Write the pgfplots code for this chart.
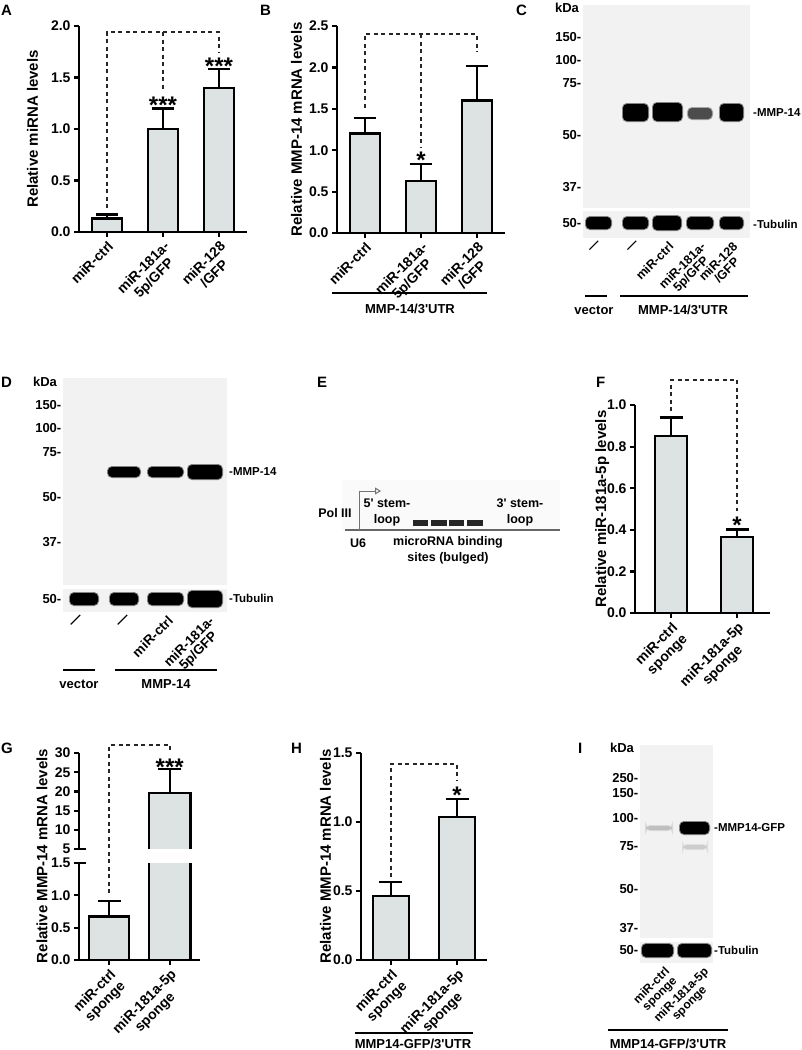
\documentclass[border=0pt]{standalone}
\usepackage{fontspec}
\setmainfont{Liberation Sans}[Ligatures=TeXOff]
\usepackage{pgfplots}
\pgfplotsset{compat=1.18}
\usetikzlibrary{arrows.meta}
\definecolor{barfill}{HTML}{DDE3E3}
\definecolor{blotbg}{HTML}{F2F2F2}
\newcommand{\fsz}[2]{\fontsize{#1}{#2}\selectfont\bfseries}
\newcommand{\band}[5]{%
  \addplot[fill=#5, draw=#5, draw opacity=0.45, line width=2pt, rounded corners=4pt] coordinates {(#1,#3) (#2,#3) (#2,#4) (#1,#4)} -- cycle;}
% error bar: x, value, top, cap left, cap right
\newcommand{\eb}[5]{%
  \addplot[line width=2.4pt, black] coordinates {(#1,#2) (#1,#3)};
  \addplot[line width=2.4pt, black] coordinates {(#4,#3) (#5,#3)};}
\tikzset{star/.style={font=\fsz{24}{24}, anchor=base, inner sep=0pt, yshift=-13pt}}
\pgfplotsset{
  /pgf/number format/assume math mode=true,
  gp/.style={
    scale only axis, clip=false, enlargelimits=false,
    axis x line*=bottom, axis y line*=left,
    axis line style={line width=2.4pt, black},
    tick style={line width=2.2pt, black},
    tick align=outside, major tick length=5pt,
    ticklabel style={font=\fsz{14}{15}},
    yticklabel style={/pgf/number format/.cd, fixed, fixed zerofill, precision=1},
    xticklabel style={rotate=45, anchor=north east, align=center, inner sep=2pt},
    ylabel style={font=\fsz{15}{17}},
    no markers,
  },
  barplot/.style={ybar, bar width=#1, fill=barfill, draw=black, line width=2.4pt},
  dash/.style={line width=1.6pt, dash pattern=on 4pt off 3.5pt, black!85},
  blot/.style={
    scale only axis, clip=false, enlargelimits=false, y dir=reverse,
    axis line style={draw=none}, major tick length=0pt, tick style={draw=none},
    axis background/.style={fill=blotbg},
    xtick=\empty,
    yticklabel style={font=\fsz{13}{14}, inner sep=1.5pt},
    xticklabel style={font=\fsz{13.5}{13}, rotate=45, anchor=north east, align=center, inner sep=2pt},
  },
}
\begin{document}
\begin{tikzpicture}
\path[use as bounding box] (0pt,0pt) rectangle (802pt,-1050pt);

% ---------- A
\begin{axis}[gp, at={(79pt,-232pt)}, anchor=south west, width=168pt, height=206pt,
  xmin=0.5, xmax=3.5, ymin=0, ymax=2,
  ytick={0,0.5,1,1.5,2}, xtick={1,2,3},
  xticklabels={miR-ctrl, {miR-181a-\\5p/GFP}, {miR-128\\/GFP}},
  ylabel={Relative miRNA levels}, ylabel style={yshift=6pt}]
\addplot[barplot=30pt] coordinates {(1,0.13) (2,1.0) (3,1.4)};
\eb{1}{0.13}{0.17}{0.795}{1.205}
\eb{2}{1.0}{1.2}{1.795}{2.205}
\eb{3}{1.4}{1.58}{2.795}{3.205}
\addplot[dash] coordinates {(1,0.23) (1,1.94) (3,1.94) (3,1.74)};
\addplot[dash] coordinates {(2,1.94) (2,1.36)};
\node[star] at (axis cs:2,1.28) {***};
\node[star] at (axis cs:3,1.66) {***};
\end{axis}

% ---------- B
\begin{axis}[gp, at={(337pt,-233pt)}, anchor=south west, width=168pt, height=207pt,
  xmin=0.5, xmax=3.5, ymin=0, ymax=2.5,
  ytick={0,0.5,1,1.5,2,2.5}, xtick={1,2,3},
  xticklabels={miR-ctrl, {miR-181a-\\5p/GFP}, {miR-128\\/GFP}},
  ylabel={Relative MMP-14 mRNA levels}]
\addplot[barplot=30pt] coordinates {(1,1.2) (2,0.63) (3,1.6)};
\eb{1}{1.2}{1.39}{0.795}{1.205}
\eb{2}{0.63}{0.83}{1.795}{2.205}
\eb{3}{1.6}{2.02}{2.795}{3.205}
\addplot[dash] coordinates {(1,1.51) (1,2.4) (3,2.4) (3,2.19)};
\addplot[dash] coordinates {(2,2.4) (2,1.04)};
\node[star] at (axis cs:2,0.94) {*};
\end{axis}

% ---------- C
\begin{axis}[blot, at={(583pt,-5pt)}, anchor=north west, width=167pt, height=203pt,
  xmin=583, xmax=750, ymin=5, ymax=208,
  ytick={37,60,83,135,187}, yticklabels={150-,100-,75-,50-,37-}]
\band{623}{648}{104}{121}{black}
\band{653}{682}{103}{121}{black}
\band{688}{712}{108}{119}{black!70}
\band{720}{743}{104}{121}{black}
\end{axis}
\begin{axis}[blot, at={(583pt,-211pt)}, anchor=north west, width=167pt, height=27pt,
  xmin=583, xmax=750, ymin=211, ymax=238,
  ytick={223}, yticklabels={50-},
  xtick={598,636,668,700,732},
  xticklabel style={font=\fsz{12.5}{12}},
  xticklabels={\textemdash, \textemdash, miR-ctrl, {miR-181a-\\5p/GFP}, {miR-128\\/GFP}}]
\band{586}{611}{217}{229}{black}
\band{623}{648}{217}{229}{black}
\band{653}{681}{216}{230}{black}
\band{687}{713}{217}{229}{black}
\band{720}{743}{217}{229}{black}
\end{axis}

% ---------- D
\begin{axis}[blot, at={(63pt,-378pt)}, anchor=north west, width=164pt, height=207pt,
  xmin=63, xmax=227, ymin=378, ymax=585,
  ytick={405,428,452,497,542}, yticklabels={150-,100-,75-,50-,37-}]
\band{108}{140}{467}{477}{black}
\band{148}{183}{467}{477}{black}
\band{188}{222}{465}{479}{black}
\end{axis}
\begin{axis}[blot, at={(63pt,-589pt)}, anchor=north west, width=164pt, height=23pt,
  xmin=63, xmax=227, ymin=589, ymax=612,
  ytick={599}, yticklabels={50-},
  xtick={80,127,167,208},
  xticklabels={\textemdash, \textemdash, miR-ctrl, {miR-181a-\\5p/GFP}}]
\band{70}{98}{593}{605}{black}
\band{110}{138}{593}{605}{black}
\band{148}{183}{593}{605}{black}
\band{188}{222}{591}{607}{black}
\end{axis}

% ---------- F
\begin{axis}[gp, at={(635pt,-613pt)}, anchor=south west, width=135pt, height=208pt,
  xmin=0.45, xmax=2.5, ymin=0, ymax=1,
  ytick={0,0.2,0.4,0.6,0.8,1}, xtick={1,2},
  xticklabels={{miR-ctrl\\sponge}, {miR-181a-5p\\sponge}},
  ylabel={Relative miR-181a-5p levels}, ylabel style={yshift=-9pt}]
\addplot[barplot=32pt] coordinates {(1,0.85) (2,0.365)};
\eb{1}{0.85}{0.94}{0.825}{1.175}
\eb{2}{0.365}{0.402}{1.825}{2.175}
\addplot[dash] coordinates {(1,0.97) (1,1.12) (2,1.12) (2,0.49)};
\node[star] at (axis cs:2,0.447) {*};
\end{axis}

% ---------- G (broken axis)
\begin{axis}[gp, at={(79pt,-960pt)}, anchor=south west, width=121pt, height=97pt,
  xmin=0.5, xmax=2.5, ymin=0, ymax=1.5,
  ytick={0,0.5,1,1.5}, xtick={1,2},
  xticklabels={{miR-ctrl\\sponge}, {miR-181a-5p\\sponge}}]
\addplot[barplot=40pt] coordinates {(1,0.67)};
\eb{1}{0.67}{0.91}{0.81}{1.19}
\addplot[fill=barfill, draw=black, line width=2.4pt] coordinates {(1.66,1.5) (1.66,0) (2.34,0) (2.34,1.5)};
\draw[line width=2.4pt] (axis cs:0.5,1.5) -- ++(7pt,0pt);
\end{axis}
\begin{axis}[gp, at={(79pt,-849pt)}, anchor=south west, width=121pt, height=96pt,
  axis x line=none, xtick=\empty,
  xmin=0.5, xmax=2.5, ymin=5, ymax=30,
  ytick={5,10,15,20,25,30},
  yticklabel style={/pgf/number format/.cd, fixed, precision=0}]
\addplot[fill=barfill, draw=black, line width=2.4pt] coordinates {(1.66,5) (1.66,19.6) (2.34,19.6) (2.34,5)};
\eb{2}{19.6}{25.8}{1.81}{2.19}
\addplot[dash] coordinates {(1,-6.5) (1,32.1) (2,32.1) (2,30.3)};
\node[star] at (axis cs:2,27.6) {***};
\draw[line width=2.4pt] (axis cs:0.5,5) -- ++(7pt,0pt);
\end{axis}

% ---------- H
\begin{axis}[gp, at={(361pt,-960pt)}, anchor=south west, width=126pt, height=207pt,
  xmin=0.55, xmax=2.45, ymin=0, ymax=1.5,
  ytick={0,0.5,1,1.5}, xtick={1,2},
  xticklabels={{miR-ctrl\\sponge}, {miR-181a-5p\\sponge}},
  ylabel={Relative MMP-14 mRNA levels}, ylabel style={yshift=-5pt}]
\addplot[barplot=36pt] coordinates {(1,0.464) (2,1.036)};
\eb{1}{0.464}{0.564}{0.827}{1.173}
\eb{2}{1.036}{1.166}{1.827}{2.173}
\addplot[dash] coordinates {(1,0.6) (1,1.42) (2,1.42) (2,1.30)};
\node[star] at (axis cs:2,1.23) {*};
\end{axis}

% ---------- I
\begin{axis}[blot, at={(640pt,-745pt)}, anchor=north west, width=73pt, height=193pt,
  xmin=640, xmax=713, ymin=745, ymax=938,
  ytick={778,793,818,846,889,928}, yticklabels={250-,150-,100-,75-,50-,37-}]
\band{646}{672}{826}{830}{black!25}
\band{683}{707}{845}{849}{black!20}
\band{680}{709}{822}{834}{black}
\end{axis}
\begin{axis}[blot, at={(640pt,-942pt)}, anchor=north west, width=73pt, height=21pt,
  xmin=640, xmax=713, ymin=942, ymax=963,
  ytick={950}, yticklabels={50-},
  xtick={664,703},
  xticklabel style={font=\fsz{12}{11.5}},
  xticklabels={{miR-ctrl\\sponge}, {miR-181a-5p\\sponge}}]
\band{642}{673}{944}{957}{black}
\band{678}{711}{944}{957}{black}
\end{axis}

% ---------- annotations (image pixel coordinates, y down)
\begin{scope}[x=1pt,y=-1pt]
\foreach \l/\px/\py in {A/1/5, B/260/5, C/516/5, D/1/377, E/317/377, F/596/377, G/1/743, H/291/743, I/578/743}
  \node[font=\fsz{15}{17}, anchor=north west, inner sep=0pt] at (\px,\py) {\l};
% B
\draw[line width=1.3pt] (332,293) -- (487,293);
\node[font=\fsz{13}{14}] at (410,309) {MMP-14/3'UTR};
% C
\node[font=\fsz{13}{14}] at (567,8) {kDa};
\node[font=\fsz{11.5}{13}, anchor=west, inner sep=0pt] at (753,113) {-MMP-14};
\node[font=\fsz{11.5}{13}, anchor=west, inner sep=0pt] at (753,224) {-Tubulin};
\draw[line width=1.3pt] (585,296) -- (607,296);
\draw[line width=1.3pt] (620,296) -- (748,296);
\node[font=\fsz{13}{14}] at (594,310) {vector};
\node[font=\fsz{13}{14}] at (683,310) {MMP-14/3'UTR};
% D
\node[font=\fsz{13}{14}] at (45,382) {kDa};
\node[font=\fsz{11.5}{13}, anchor=west, inner sep=0pt] at (229,472) {-MMP-14};
\node[font=\fsz{11.5}{13}, anchor=west, inner sep=0pt] at (229,598) {-Tubulin};
\draw[line width=1.3pt] (63,670) -- (95,670);
\draw[line width=1.3pt] (115,670) -- (217,670);
\node[font=\fsz{13}{14}] at (79,684) {vector};
\node[font=\fsz{13}{14}] at (166,684) {MMP-14};
% E (schematic)
\fill[black!2] (342,480) rectangle (560,530);
\draw[line width=1.4pt, black!60] (345,530) -- (560,530);
\draw[line width=1pt, black!55, -{Triangle[open,length=6pt,width=7pt]}] (359,530) -- (359,491) -- (381,491);
\foreach \a/\b in {413/428,431/447,449/464,467/483} \fill[black!85] (\a,520) rectangle (\b,526);
\node[font=\fsz{12.5}{16}] at (335,513) {Pol III};
\node[font=\fsz{12.5}{16}, align=center] at (387,512) {5' stem-\\loop};
\node[font=\fsz{12.5}{16}, align=center] at (520,512) {3' stem-\\loop};
\node[font=\fsz{12.5}{16}] at (358,543) {U6};
\node[font=\fsz{12.5}{16}, align=center] at (448,550) {microRNA binding\\sites (bulged)};
% G
\node[font=\fsz{15}{17}, rotate=90] at (42,856) {Relative MMP-14 mRNA levels};
% H
\draw[line width=1.3pt] (355,1033) -- (473,1033);
\node[font=\fsz{13}{14}] at (413,1044) {MMP14-GFP/3'UTR};
% I
\node[font=\fsz{13}{14}] at (622,748) {kDa};
\node[font=\fsz{11.5}{13}, anchor=west, inner sep=0pt] at (714,828) {-MMP14-GFP};
\node[font=\fsz{11.5}{13}, anchor=west, inner sep=0pt] at (714,950) {-Tubulin};
\draw[line width=1.3pt] (608,1030) -- (728,1030);
\node[font=\fsz{13}{14}] at (668,1044) {MMP14-GFP/3'UTR};
\end{scope}
\end{tikzpicture}
\end{document}
